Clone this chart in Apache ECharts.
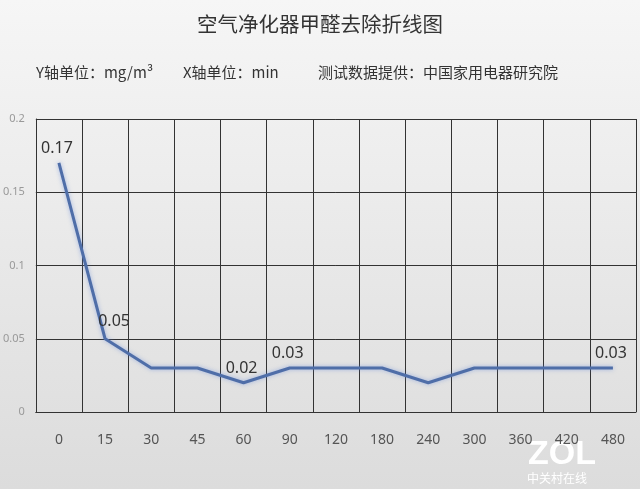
<!DOCTYPE html>
<html><head><meta charset="utf-8">
<script src="https://cdn.jsdelivr.net/npm/echarts@6/dist/echarts.min.js"></script>
<style>html,body{margin:0;padding:0;}#c{width:640px;height:489px;}</style>
</head><body><div id="c"></div>
<script>
var categories = ['0','15','30','45','60','90','120','180','240','300','360','420','480'];
var values = [0.17,0.05,0.03,0.03,0.02,0.03,0.03,0.03,0.02,0.03,0.03,0.03,0.03];
var labeledIdx = [0,1,4,5,12];
var labelOffsets = {0:[-2,-1],1:[9,-4],4:[-2,-1],5:[-2,-1],12:[-2,-1]};
var yTicks = {min:0,max:0.2,interval:0.05};

var chart = echarts.init(document.getElementById('c'));
var data = values.map(function(v,i){
  if (labeledIdx.indexOf(i) >= 0) {
    return {value:v, label:{show:true, position:'top', offset:labelOffsets[i], formatter:String(v)}};
  }
  return v;
});
chart.setOption({
  backgroundColor:{type:'linear',x:0,y:0,x2:0,y2:1,colorStops:[{offset:0,color:'#f6f6f6'},{offset:1,color:'#dcdcdc'}]},
  title:{text:'空气净化器甲醛去除折线图',left:'center',top:9,textStyle:{fontSize:20.5,fontWeight:'normal',color:'#333',fontFamily:'Noto Sans CJK SC'}},
  graphic:[
    {type:'text',left:36,top:65,style:{text:'Y轴单位：mg/m³',fontSize:15,fill:'#333',fontFamily:'Noto Sans CJK SC'}},
    {type:'text',left:183,top:65,style:{text:'X轴单位：min',fontSize:15,fill:'#333',fontFamily:'Noto Sans CJK SC'}},
    {type:'text',left:318,top:65,style:{text:'测试数据提供：中国家用电器研究院',fontSize:15,fill:'#333',fontFamily:'Noto Sans CJK SC'}},
    {type:'text',left:528,top:438,style:{text:'ZOL',fontSize:34,fontWeight:'bold',fill:'#ffffff',fontFamily:'Liberation Sans'}},
    {type:'text',left:527,top:472,style:{text:'中关村在线',fontSize:12,fill:'#ffffff',fontFamily:'Noto Sans CJK SC'}}
  ],
  grid:{left:34,right:4,top:119,bottom:77},
  xAxis:{type:'category',data:categories,boundaryGap:true,
    axisLine:{show:true,lineStyle:{color:'#333',width:1}},
    axisTick:{show:false},
    axisLabel:{color:'#555',fontSize:14,margin:21,fontFamily:'Noto Sans'},
    splitLine:{show:true,lineStyle:{color:'#333',width:1}}},
  yAxis:{type:'value',min:yTicks.min,max:yTicks.max,interval:yTicks.interval,
    axisLine:{show:true,lineStyle:{color:'#333',width:1}},
    axisTick:{show:false},
    axisLabel:{color:'#999',fontSize:11,margin:11,fontFamily:'Noto Sans'},
    splitLine:{show:true,lineStyle:{color:'#333',width:1}}},
  series:[{type:'line',data:data,symbol:'circle',symbolSize:1,showSymbol:true,
    itemStyle:{color:'rgba(0,0,0,0)'},
    lineStyle:{color:'#4f6ea8',width:3,shadowColor:'rgba(90,130,220,0.5)',shadowBlur:4},
    label:{color:'#333',fontSize:16,fontFamily:'Noto Sans'}
  }]
});
</script></body></html>
